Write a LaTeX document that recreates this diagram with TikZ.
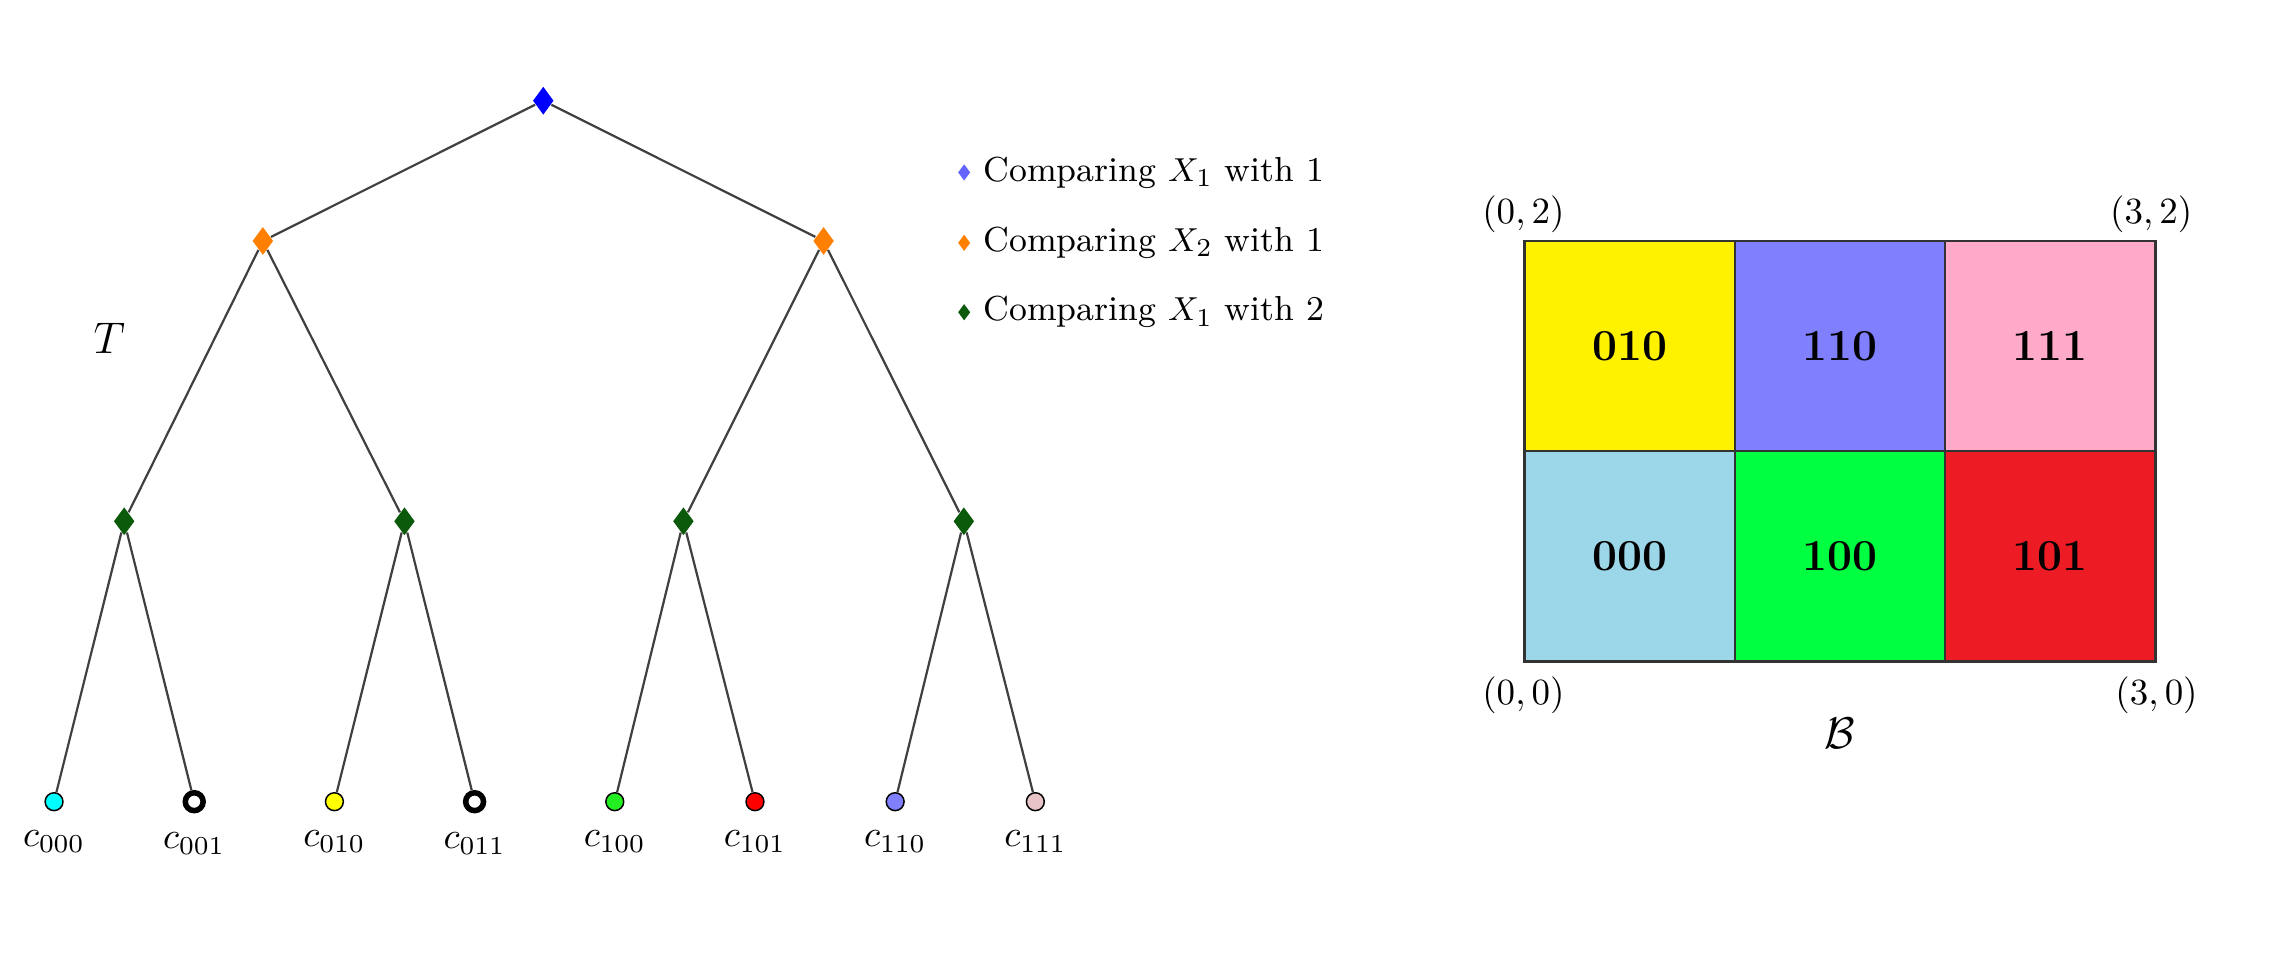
\documentclass[tikz,border=0pt]{standalone}
\usetikzlibrary{positioning,shapes.geometric}
\definecolor{RootBlue}{HTML}{0000FF}
\definecolor{SplitOrange}{HTML}{FF7F00}
\definecolor{SplitGreen}{HTML}{0B5A0B}
\definecolor{KeyBlue}{HTML}{6464FF}
\definecolor{EdgeGray}{HTML}{404040}
\definecolor{LeafCyan}{HTML}{00FFFF}
\definecolor{LeafYellow}{HTML}{FFFF00}
\definecolor{LeafGreen}{HTML}{22EE22}
\definecolor{LeafRed}{HTML}{FF0000}
\definecolor{LeafBlue}{HTML}{8080FF}
\definecolor{LeafPink}{HTML}{E8C4C8}
\definecolor{CellYellow}{HTML}{FFF200}
\definecolor{CellBlue}{HTML}{8080FF}
\definecolor{CellPink}{HTML}{FFAAC8}
\definecolor{CellSky}{HTML}{9BD7E8}
\definecolor{CellGreen}{HTML}{00FF40}
\definecolor{CellRed}{HTML}{ED1C24}
\definecolor{CellLine}{HTML}{333333}

\begin{document}
\begin{tikzpicture}[
  split/.style = {diamond, inner sep=0pt, minimum width=0.2cm, minimum height=0.27cm},
  leaf/.style  = {circle, draw=black, inner sep=0pt, minimum size=0.17cm},
  key/.style   = {diamond, inner sep=0pt, minimum width=0.12cm, minimum height=0.16cm},
  keytext/.style = {font=\fontsize{9.4}{11}\selectfont, inner sep=2pt},
  edge/.style  = {draw=EdgeGray, line width=0.6pt},
  cell/.style  = {draw=CellLine, line width=0.6pt, minimum size=2cm, inner sep=0pt,
                  font=\large\bfseries}
]
  \useasboundingbox (0,0) rectangle (21.78,-9.25);

  % tree T
  \node[split, fill=RootBlue] (r) at (5.167,-0.958) {};
  \node[split, fill=SplitOrange] (s0) at (2.5,-2.292) {};
  \node[split, fill=SplitOrange] (s1) at (7.833,-2.292) {};
  \node[split, fill=SplitGreen] (s00) at (1.181,-4.958) {};
  \node[split, fill=SplitGreen] (s01) at (3.847,-4.958) {};
  \node[split, fill=SplitGreen] (s10) at (6.5,-4.958) {};
  \node[split, fill=SplitGreen] (s11) at (9.167,-4.958) {};

  \foreach \code/\col/\lw [count=\i from 0] in {000/LeafCyan/0.4pt, 001/white/1.5pt,
      010/LeafYellow/0.4pt, 011/white/1.5pt, 100/LeafGreen/0.4pt, 101/LeafRed/0.4pt,
      110/LeafBlue/0.4pt, 111/LeafPink/0.4pt}{
    \node[leaf, fill=\col, line width=\lw] (l\code) at ({0.514+1.3333*\i},-7.625) {};
    \node[below=0.06cm of l\code] (t\code) {$c_{\code}$};
  }

  \foreach \p in {0,1}{
    \draw[edge] (r) -- (s\p);
    \foreach \q in {0,1}{
      \draw[edge] (s\p) -- (s\p\q);
      \foreach \z in {0,1}
        \draw[edge] (s\p\q) -- (l\p\q\z);
    }
  }

  \node[font=\large] (tname) at (1.04,-3.22) {$T$};

  % legend
  \node[key, fill=KeyBlue] (k1) at (9.17,-1.64) {};
  \node[key, fill=SplitOrange] (k2) at (9.17,-2.31) {};
  \node[key, fill=SplitGreen] (k3) at (9.17,-2.97) {};
  \node[keytext, right=0.04cm of k1] (k1txt) {Comparing $X_1$ with 1};
  \node[keytext, right=0.04cm of k2] (k2txt) {Comparing $X_2$ with 1};
  \node[keytext, right=0.04cm of k3] (k3txt) {Comparing $X_1$ with 2};

  % partition B
  \node[cell, fill=CellYellow] (b010) at (15.5,-3.292) {010};
  \node[cell, fill=CellBlue]   (b110) at (17.5,-3.292) {110};
  \node[cell, fill=CellPink]   (b111) at (19.5,-3.292) {111};
  \node[cell, fill=CellSky]    (b000) at (15.5,-5.292) {000};
  \node[cell, fill=CellGreen]  (b100) at (17.5,-5.292) {100};
  \node[cell, fill=CellRed]    (b101) at (19.5,-5.292) {101};

  \node[above=-0.06cm of b010.north west] (c02) {$(0,2)$};
  \node[above=-0.06cm of b111.north east, xshift=-0.05cm] (c32) {$(3,2)$};
  \node[below=0.01cm of b000.south west] (c00) {$(0,0)$};
  \node[below=0.01cm of b101.south east] (c30) {$(3,0)$};
  \node[below=0.4cm of b100, font=\large] (bname) {$\mathcal{B}$};
\end{tikzpicture}
\end{document}
